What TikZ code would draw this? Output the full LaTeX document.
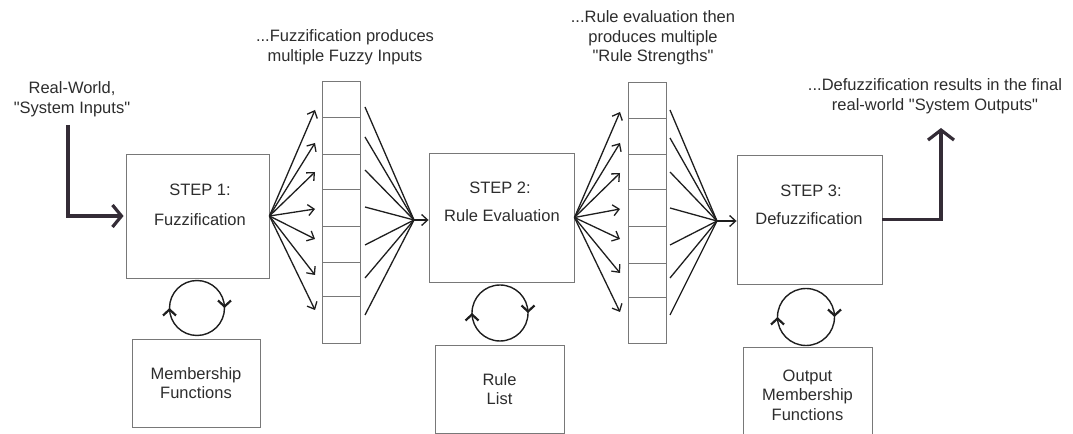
\documentclass[tikz,border=0pt]{standalone}
\usepackage{fontspec}
% plain family: no TeX ligature mapping, so " stays a straight quote
\newfontfamily\labelfont{Liberation Sans}
\usetikzlibrary{arrows.meta,decorations.markings}
\definecolor{ink}{RGB}{30,30,30}
\definecolor{heavy}{RGB}{52,44,54}
\definecolor{edge}{RGB}{120,120,120}
\definecolor{txt}{RGB}{45,45,45}
\tikzset{
  lbl/.style={inner sep=0pt, text=txt, align=center, font=\labelfont\fontsize{16.5bp}{19.5bp}\selectfont},
  box/.style={draw=edge, line width=0.9bp, inner sep=0pt, lbl},
  arraybox/.style={draw=edge, line width=0.9bp},
  fan/.style={draw=ink, line width=1.3bp, -{Straight Barb[length=6bp,width=11bp]}},
  fanline/.style={draw=ink, line width=1.3bp},
  heavyline/.style={draw=heavy, line width=3.2bp},
  looparc/.style={draw=ink, line width=1.4bp, postaction={decorate},
    decoration={markings, mark=at position 0.5 with {\arrow{Straight Barb[length=6bp,width=13bp,line width=2.2bp]}}}}
}
\begin{document}
\begin{tikzpicture}[x=1bp,y=-1bp]
\path[use as bounding box] (0,0) rectangle (1073,434);

% main processing steps
\node[box, minimum width=143bp, minimum height=124bp] (b1) at (197.5,216) {};
\node[box, minimum width=145bp, minimum height=129bp] (b2) at (501.5,217.5) {};
\node[box, minimum width=145bp, minimum height=129bp] (b3) at (809.5,219.5) {};
\node[lbl] (s1) at (200,190) {STEP 1:};
\node[lbl] (n1) at (200,220) {Fuzzification};
\node[lbl] (s2) at (500,188) {STEP 2:};
\node[lbl] (n2) at (502,216) {Rule Evaluation};
\node[lbl] (s3) at (811,191) {STEP 3:};
\node[lbl] (n3) at (809,219) {Defuzzification};

% knowledge base boxes
\node[box, minimum width=128bp, minimum height=88bp] (k1) at (196,383) {Membership\\Functions};
\node[box, minimum width=129bp, minimum height=88bp] (k2) at (499.5,389) {Rule\\List};
\node[box, minimum width=129bp, minimum height=96bp] (k3) at (807.5,395) {Output\\Membership\\Functions};

% value arrays
\node[arraybox, minimum width=38bp, minimum height=262bp, inner sep=0pt] (a1) at (341,212) {};
\node[arraybox, minimum width=38bp, minimum height=261bp, inner sep=0pt] (a2) at (647,212.5) {};
\foreach \y in {117,154,189,226,262,296} \draw[arraybox] (322,\y) -- (360,\y);
\foreach \y in {118,154,189,226,263,297} \draw[arraybox] (628,\y) -- (666,\y);

% captions
\node[lbl] (cin) at (72,99) {Real-World,\\"System Inputs"};
\node[lbl] (cfz) at (345,47) {...Fuzzification produces\\multiple Fuzzy Inputs};
\node[lbl] (cre) at (653,38) {...Rule evaluation then\\produces multiple\\"Rule Strengths"};
\node[lbl] (cdf) at (935,96) {...Defuzzification results in the final\\real-world "System Outputs"};

% system input and output
\coordinate (inTop) at (68,125);
\coordinate (outTop) at (941,128);
\draw[heavyline, -{Straight Barb[length=9bp,width=22bp]}] (inTop) |- ([xshift=-2bp]b1.west);
\draw[heavyline, -{Straight Barb[length=10bp,width=26bp]}] (b3.east) -| (outTop);

% fuzzification fan-out
\foreach \y [count=\i] in {110,143,172,209,239,275,310} {
  \coordinate (p1-\i) at (315,\y);
  \draw[fan] (b1.east) -- (p1-\i);
}
% fuzzy inputs into rule evaluation
\coordinate (c1) at (414,220);
\foreach \y [count=\i] in {107,137,170,207,245,278,315} {
  \coordinate (q1-\i) at (365,\y);
  \draw[fanline] (q1-\i) -- (c1);
}
\draw[fan] (c1) -- (c1 -| b2.west);

% rule evaluation fan-out
\foreach \y [count=\i] in {112,143,173,209,239,273,312} {
  \coordinate (p2-\i) at (620,\y);
  \draw[fan] (b2.east) -- (p2-\i);
}
% rule strengths into defuzzification
\coordinate (c2) at (717,221);
\foreach \y [count=\i] in {110,138,172,208,245,278,315} {
  \coordinate (q2-\i) at (670,\y);
  \draw[fanline] (q2-\i) -- (c2);
}
\draw[fan] (c2) -- (c2 -| b3.west);

% exchange loops between steps and their knowledge bases
\coordinate (l1) at (197,308);
\coordinate (l2) at (500,313);
\coordinate (l3) at (806,317);
\foreach \c/\r in {l1/27.5,l2/28,l3/28.5} {
  \draw[looparc] ([yshift=-\r bp]\c) arc[start angle=90, end angle=270, radius=\r];
  \draw[looparc] ([yshift=\r bp]\c) arc[start angle=270, end angle=450, radius=\r];
}
\end{tikzpicture}
\end{document}
